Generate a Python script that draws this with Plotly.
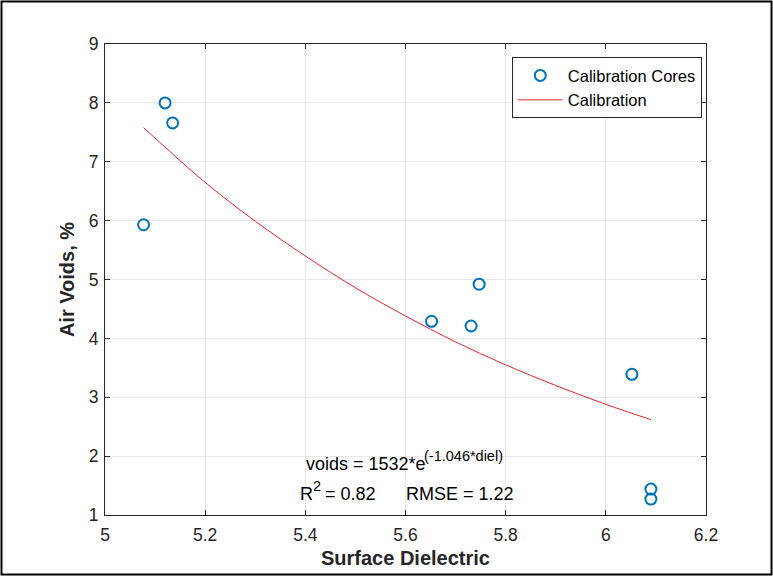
import plotly.graph_objects as go

# Calibration core measurements
diel = [5.077, 5.120, 5.135, 5.652, 5.731, 5.747, 6.052, 6.090, 6.090]
voids = [5.93, 8.00, 7.66, 4.29, 4.21, 4.92, 3.39, 1.44, 1.27]

# Calibration curve (follows voids = 1532*e^(-1.046*diel))
fit_x = [5.077, 5.2, 5.3, 5.4, 5.5, 5.6, 5.7, 5.8, 5.9, 6.0, 6.09]
fit_y = [7.58, 6.65, 5.99, 5.40, 4.86, 4.38, 3.94, 3.55, 3.20, 2.88, 2.62]

x_ticks = [5, 5.2, 5.4, 5.6, 5.8, 6, 6.2]
x_tick_text = ["5", "5.2", "5.4", "5.6", "5.8", "6", "6.2"]
y_ticks = [1, 2, 3, 4, 5, 6, 7, 8, 9]

W, H = 773, 576
ML, MR, MT, MB = 105, 67, 44, 61
PW = W - ML - MR
PH = H - MT - MB

FONT = "Liberation Sans, Arial, Helvetica, sans-serif"
TXT = "#262626"

fig = go.Figure()
fig.add_trace(go.Scatter(
    x=diel, y=voids, mode="markers", name="Calibration Cores",
    marker=dict(symbol="circle-open", size=11, color="#0072BD",
                line=dict(width=2, color="#0072BD")),
))
fig.add_trace(go.Scatter(
    x=fit_x, y=fit_y, mode="lines", name="Calibration",
    line=dict(color="#e8232b", width=1), line_shape="spline",
))

axis_common = dict(
    showgrid=True, gridcolor="#e8e8e8", gridwidth=1,
    showline=True, linecolor=TXT, linewidth=1, mirror="ticks",
    ticks="inside", ticklen=5, tickcolor=TXT,
    tickfont=dict(family=FONT, size=17.5, color=TXT),
    zeroline=False,
)

fig.update_layout(
    width=W, height=H,
    margin=dict(l=ML, r=MR, t=MT, b=MB),
    paper_bgcolor="white", plot_bgcolor="white",
    font=dict(family=FONT, color=TXT),
    xaxis=dict(range=[5, 6.2], tickvals=x_ticks, ticktext=x_tick_text,
               title=dict(text="<b>Surface Dielectric</b>",
                          font=dict(family=FONT, size=20, color=TXT), standoff=6),
               ticklabelstandoff=4,
               **axis_common),
    yaxis=dict(range=[1, 9], tickvals=y_ticks,
               title=dict(text="<b>Air Voids, %</b>",
                          font=dict(family=FONT, size=20, color=TXT), standoff=8),
               ticklabelstandoff=2,
               **axis_common),
    legend=dict(x=0.993, y=0.972, xanchor="right", yanchor="top",
                bgcolor="white", bordercolor=TXT, borderwidth=1,
                font=dict(family=FONT, size=16.5, color="black"),
                tracegroupgap=0, itemwidth=45),
    showlegend=True,
)

ANN = dict(family=FONT, size=18, color="black")
SUP = dict(family=FONT, size=14.5, color="black")
fig.add_annotation(x=5.397, y=1.86, xref="x", yref="y", showarrow=False,
                   xanchor="left", yanchor="middle",
                   text="voids = 1532*e", font=ANN)
fig.add_annotation(x=5.633, y=2.0, xref="x", yref="y", showarrow=False,
                   xanchor="left", yanchor="middle",
                   text="(-1.046*diel)", font=SUP)
fig.add_annotation(x=5.385, y=1.36, xref="x", yref="y", showarrow=False,
                   xanchor="left", yanchor="middle",
                   text="R", font=ANN)
fig.add_annotation(x=5.411, y=1.50, xref="x", yref="y", showarrow=False,
                   xanchor="left", yanchor="middle",
                   text="2", font=SUP)
fig.add_annotation(x=5.436, y=1.36, xref="x", yref="y", showarrow=False,
                   xanchor="left", yanchor="middle",
                   text="= 0.82", font=ANN)
fig.add_annotation(x=5.597, y=1.36, xref="x", yref="y", showarrow=False,
                   xanchor="left", yanchor="middle",
                   text="RMSE = 1.22", font=ANN)

# figure border
fig.add_shape(type="rect", xref="paper", yref="paper",
              x0=(1.5 - ML) / PW, x1=(W - 1.5 - ML) / PW,
              y0=-(H - 1.5 - MT - PH) / PH, y1=(PH + MT - 1.5) / PH,
              line=dict(color="black", width=2), fillcolor="rgba(0,0,0,0)",
              layer="above")

fig.write_html("out.html")
